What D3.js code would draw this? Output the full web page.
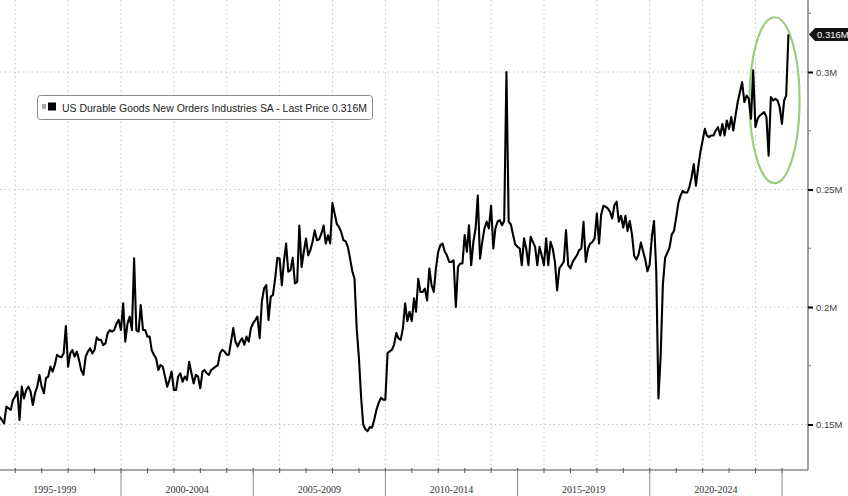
<!DOCTYPE html>
<html><head><meta charset="utf-8">
<script src="https://cdn.jsdelivr.net/npm/d3@7"></script>
<style>html,body{margin:0;padding:0;background:#fff;}svg{display:block;}</style>
</head><body>
<script>
// US Durable Goods New Orders (billions USD, monthly, SA), May 1995 .. Mar 2025
const orders1995_1999 = [
  153.3,151.9,150.5,157.6,156.9,156.2,160.4,161.9,
  164,151.9,166.1,161.1,164.7,166.1,164,158.3,163.3,166.1,171.1,166.1,
  163.3,169.7,170.4,174.6,172.5,175.3,179.6,178.9,178.6,180.3,191.9,174.6,
  180.3,181.7,178.9,181,177.5,173.2,171.1,178.9,181,182.4,180.3,181.7,
  187.1,186,186,183.8,184.5,188.8,190.2,189.5,190.2,193,194.5,190.2];
const orders2000_2004 = [
  201.6,185.3,193,195.9,190.2,220.7,190.2,189.5,200.8,190.2,190.2,187.4,
  187.4,181.7,179.6,178.2,173.2,175.3,174.6,170.4,166.1,169,172.5,164.7,
  164.7,170.4,171.8,168.2,170.4,169,176.7,171.8,167.5,171.1,170.4,165.4,
  172.5,173.2,171.8,171.1,173.2,173.9,174.6,175.3,180.3,181.8,181.1,179.7,
  179.7,185.3,191,185.3,183.2,185.3,186.7,183.9,187.4,185.3,191,193.1];
const orders2005_2009 = [
  194.5,195.9,186.7,202.3,207.9,209.3,194.5,204.4,205.1,212.2,220.9,220.6,
  209.3,219.2,227,215,215.7,220.9,210,210.7,234.7,217,223.4,229.1,
  222,224.1,227.7,232.6,228.4,228.8,231.2,234.7,227,230.5,227,244.3,
  239.7,235.4,234,231.9,228.4,228,225.6,220.6,215.3,212,191,178.3,
  161.3,150,147.9,147.2,148.9,148.6,152.1,156.4,159.2,161.3,160.6,160.6];
const orders2010_2014 = [
  180.4,181.1,181.8,183.9,188.9,186.7,186,191,201.6,194,198,194,
  203.7,198,212,206.4,206.4,207.8,202.8,216.4,209.3,206.4,216.4,223.5,
  226.3,227,223.5,222,219.2,219.2,219.9,200,217.1,218.5,218.5,230.6,
  223.5,234.8,217.8,227.7,233.4,247.4,220.6,227.7,233.4,236.3,233.4,243.1,
  224.9,233.4,236.3,237,234.8,236.6,300,236.3,235.1,230.6,226.6,225.6];
const orders2015_2019 = [
  224.9,217.8,229.2,224.9,217.8,229.9,227.7,225.6,217.8,225.6,222,217.8,
  229.2,217.8,227.7,224.9,219.2,207.1,216.4,217.8,219.2,232.7,217.8,216.4,
  219.2,220.6,222,224.2,224.9,236.3,219.2,224.9,227,227.7,229.2,239.8,
  227,239.1,243.1,242.7,242,240.6,237.7,243.4,244.8,236.3,238.8,233.8,
  238.8,232.3,236.6,230.9,221.7,220.2,222.4,227.4,223.8,220.2,215.2,218.1];
const orders2020_2025 = [
  230.2,236.6,215.2,161.1,179.6,209.5,220.9,223.1,225.2,230.9,232.3,238,
  244.4,247.3,249.4,248.7,248.7,250.9,255.1,260.8,251.6,259.4,265.8,270.8,
  275.8,273,272.3,273,273,275.1,276.5,273,277.9,273,279.3,275.8,
  280.8,275.1,281.5,287.2,291.5,295.7,287.2,290,288.6,280.1,300.7,276.5,
  280.1,281.5,282.2,282.9,280.8,264.4,289.3,287.9,288.6,287.9,285,277.9,
  287.9,290,316];
const yTicks = [150, 200, 250, 300];
const yMinorTicks = [175, 225, 275, 325];
const periodLabels = ["1995-1999","2000-2004","2005-2009","2010-2014","2015-2019","2020-2024"];
const periodStarts = [1995, 2000, 2005, 2010, 2015, 2020];
const legendText = "US Durable Goods New Orders Industries SA - Last Price 0.316M";
const lastLabel = "0.316M";

const values = [].concat(orders1995_1999, orders2000_2004, orders2005_2009,
                         orders2010_2014, orders2015_2019, orders2020_2025);
const data = values.map((v, i) => ({date: new Date(1995, 5 + i, 0), v}));

const W = 848, H = 496, PR = 808, PB = 470;
const svg = d3.select("body").append("svg").attr("width", W).attr("height", H);

const x = d3.scaleTime().domain([new Date(2000,0,1), new Date(2025,0,1)]).range([121, 782]);
const y = d3.scaleLinear().domain([150, 300]).range([424.5, 72]);

// gridlines
const grid = svg.append("g").attr("stroke", "#c4c4c4").attr("stroke-width", 1).attr("stroke-dasharray", "1.5,3");
const gridYears = d3.range(1996, 2025, 2).map(yr => new Date(yr, 0, 1));
grid.selectAll("line.v").data(gridYears).join("line")
  .attr("x1", d => x(d)).attr("x2", d => x(d)).attr("y1", 0).attr("y2", PB);
grid.selectAll("line.h").data(yTicks).join("line")
  .attr("x1", 0).attr("x2", PR).attr("y1", d => y(d)).attr("y2", d => y(d));

// green annotation ellipse
const ex = x(new Date(2024, 8, 20)), ey = y(288);
svg.append("ellipse").attr("cx", ex).attr("cy", ey)
  .attr("rx", x(new Date(2025, 8, 1)) - ex).attr("ry", y(252.7) - ey)
  .attr("fill", "none").attr("stroke", "#9ccc7c").attr("stroke-width", 2.2);

// clip & line
svg.append("clipPath").attr("id", "clip").append("rect").attr("x", 0).attr("y", 0).attr("width", PR).attr("height", PB);
const line = d3.line().x(d => x(d.date)).y(d => y(d.v)).curve(d3.curveLinear);
svg.append("path").datum(data).attr("clip-path", "url(#clip)")
  .attr("d", line).attr("fill", "none").attr("stroke", "#000").attr("stroke-width", 2.1)
  .attr("stroke-linejoin", "round");

// axes frame
svg.append("line").attr("x1", PR).attr("x2", PR).attr("y1", 0).attr("y2", PB).attr("stroke", "#8a8a8a").attr("stroke-width", 1.6);
svg.append("line").attr("x1", 0).attr("x2", PR).attr("y1", PB).attr("y2", PB).attr("stroke", "#8a8a8a").attr("stroke-width", 1.6);

// right axis
const yAxis = d3.axisRight(y).tickValues(yTicks).tickSize(5).tickPadding(3).tickFormat(v => (v/1000) + "M");
const ya = svg.append("g").attr("transform", `translate(${PR},0)`).call(yAxis);
ya.select(".domain").remove();
ya.selectAll(".tick line").attr("stroke", "#000").attr("stroke-width", 2);
ya.selectAll(".tick text").attr("font-family", "Liberation Sans, Arial, sans-serif").attr("font-size", 9.5).attr("fill", "#444");
svg.append("g").selectAll("line").data(yMinorTicks).join("line")
  .attr("x1", PR).attr("x2", PR + 3).attr("y1", d => y(d)).attr("y2", d => y(d))
  .attr("stroke", "#777").attr("stroke-width", 1);

// last price tag
const ly = y(values[values.length - 1]);
svg.append("path")
  .attr("d", `M${PR+1},${ly} L${PR+7},${ly-6.5} L${W},${ly-6.5} L${W},${ly+6.5} L${PR+7},${ly+6.5} Z`)
  .attr("fill", "#111");
svg.append("text").attr("x", PR + 9).attr("y", ly + 3.5).text(lastLabel)
  .attr("font-family", "Liberation Sans, Arial, sans-serif").attr("font-size", 9.5).attr("fill", "#fff");

// bottom axis: yearly ticks, period separators, labels
const years = d3.range(1995, 2026).map(yr => new Date(yr, 0, 1)).filter(d => x(d) >= 0);
svg.append("g").selectAll("line").data(years).join("line")
  .attr("x1", d => x(d)).attr("x2", d => x(d)).attr("y1", PB - 2).attr("y2", PB + 3)
  .attr("stroke", "#555").attr("stroke-width", 1);
const seps = d3.range(2000, 2026, 5).map(yr => new Date(yr, 0, 1));
svg.append("g").selectAll("line").data(seps).join("line")
  .attr("x1", d => x(d)).attr("x2", d => x(d)).attr("y1", PB).attr("y2", H)
  .attr("stroke", "#8a8a8a").attr("stroke-width", 1);
svg.append("g").selectAll("text").data(periodLabels).join("text")
  .attr("x", (d, i) => (x(new Date(periodStarts[i], 0, 1)) + x(new Date(periodStarts[i] + 5, 0, 1))) / 2)
  .attr("y", 493).attr("text-anchor", "middle").text(d => d)
  .attr("font-family", "Liberation Serif, Times New Roman, serif").attr("font-size", 10).attr("fill", "#333");

// legend
const lg = svg.append("g");
lg.append("rect").attr("x", 37.5).attr("y", 95.5).attr("width", 335).attr("height", 24).attr("rx", 3)
  .attr("fill", "#fff").attr("stroke", "#8a8a8a").attr("stroke-width", 1);
lg.append("rect").attr("x", 42).attr("y", 104).attr("width", 4).attr("height", 5).attr("fill", "#aaa");
lg.append("rect").attr("x", 48).attr("y", 102.5).attr("width", 8).attr("height", 8).attr("fill", "#000");
lg.append("text").attr("x", 62).attr("y", 111.5).text(legendText)
  .attr("font-family", "Liberation Sans, Arial, sans-serif").attr("font-size", 10.5).attr("fill", "#222")
  .attr("textLength", 305).attr("lengthAdjust", "spacingAndGlyphs");
</script>
</body></html>
